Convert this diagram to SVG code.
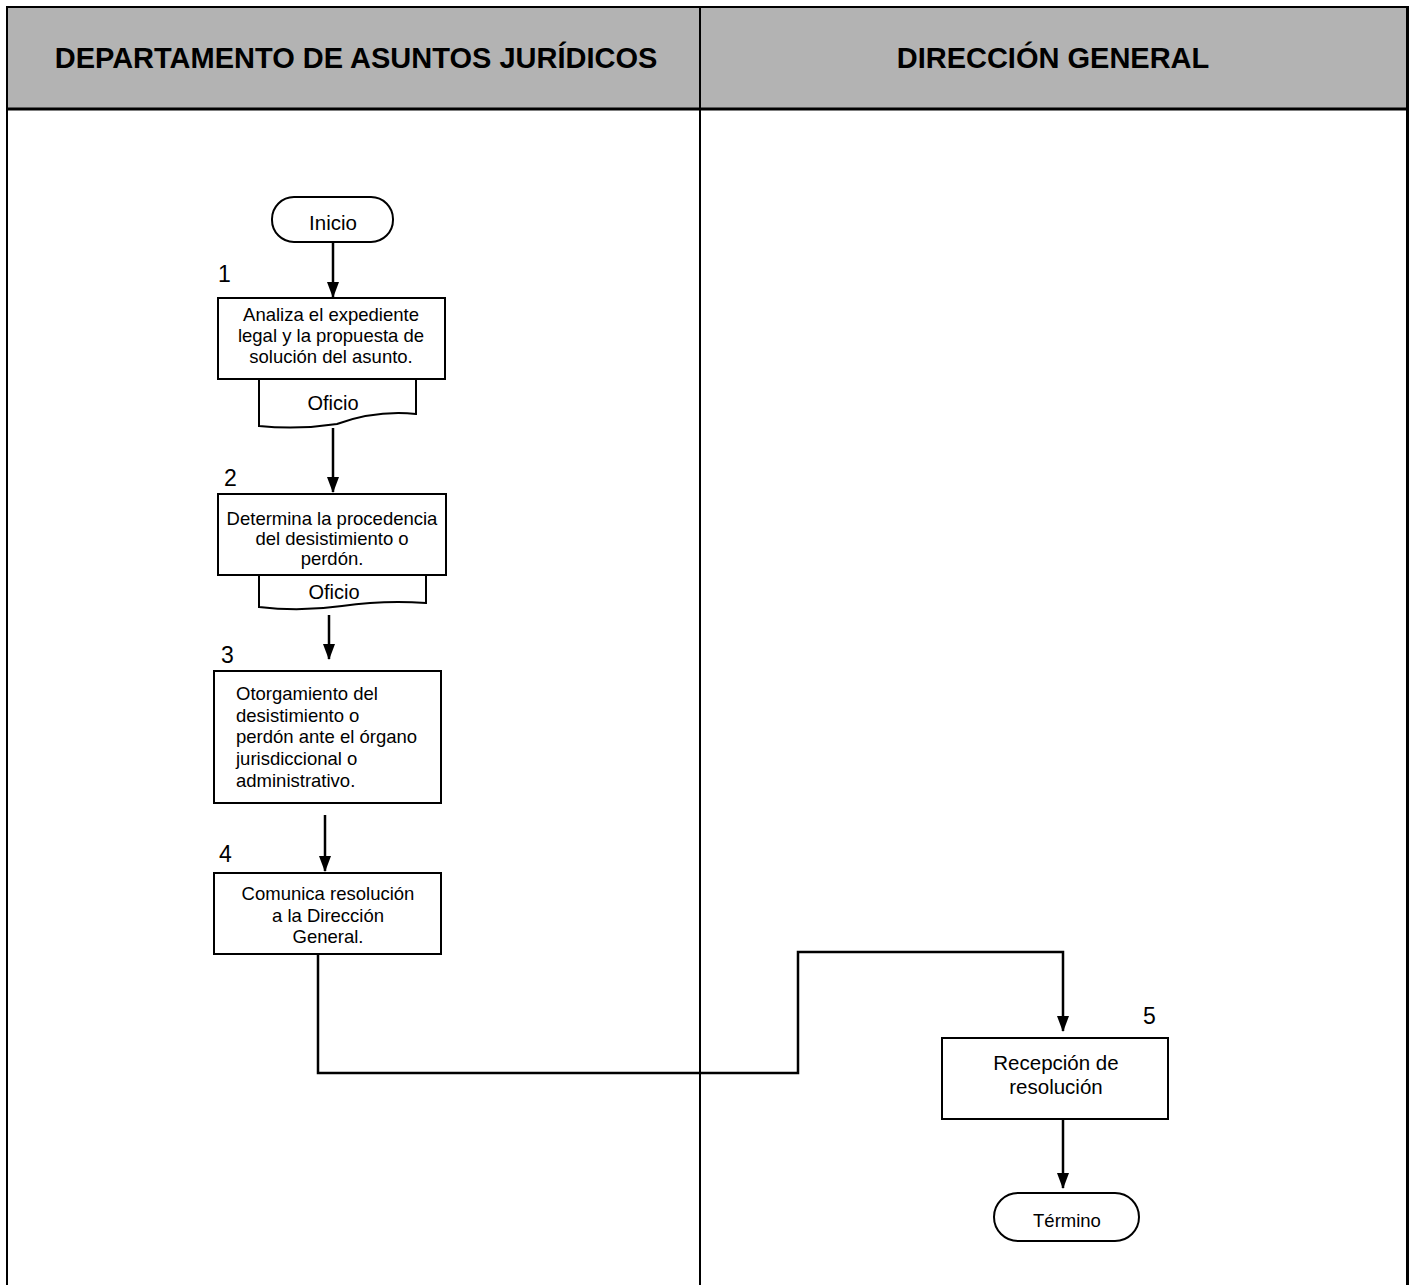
<svg xmlns="http://www.w3.org/2000/svg" width="1413" height="1285" viewBox="0 0 1413 1285">
<style>
.t{font-family:"Liberation Sans",Arial,sans-serif;fill:#000}
.h{font-size:29px;font-weight:bold;text-anchor:middle}
.n{font-size:23px}
.b{font-size:18.5px;text-anchor:middle}
.l{font-size:18.5px}
.box{fill:#fff;stroke:#000;stroke-width:2}
.c{fill:none;stroke:#000;stroke-width:2.5}
</style>
<defs>
<marker id="arr" markerWidth="16" markerHeight="14" refX="15" refY="7" orient="auto" markerUnits="userSpaceOnUse" viewBox="0 0 16 14">
<path d="M0,1 L16,7 L0,13 Z" fill="#000"/>
</marker>
</defs>
<g id="lanes">
<rect x="7" y="7" width="1400" height="102" fill="#b3b3b3"/>
<line x1="7" y1="7" x2="1408" y2="7" stroke="#000" stroke-width="2"/>
<line x1="7" y1="6" x2="7" y2="1285" stroke="#000" stroke-width="2"/>
<line x1="1407.5" y1="6" x2="1407.5" y2="1285" stroke="#000" stroke-width="3"/>
<line x1="7" y1="109" x2="1408" y2="109" stroke="#000" stroke-width="3"/>
<line x1="700" y1="7" x2="700" y2="1285" stroke="#000" stroke-width="2"/>
<text class="t h" x="356" y="68">DEPARTAMENTO DE ASUNTOS JURÍDICOS</text>
<text class="t h" x="1053" y="68">DIRECCIÓN GENERAL</text>
</g>
<g id="connectors">
<line class="c" x1="333" y1="243" x2="333" y2="297" marker-end="url(#arr)"/>
<line class="c" x1="333" y1="428" x2="333" y2="492" marker-end="url(#arr)"/>
<line class="c" x1="329" y1="615" x2="329" y2="659" marker-end="url(#arr)"/>
<line class="c" x1="325" y1="815" x2="325" y2="871" marker-end="url(#arr)"/>
<polyline class="c" points="318,955 318,1073 798,1073 798,952 1063,952 1063,1031" marker-end="url(#arr)"/>
<line class="c" x1="1063" y1="1120" x2="1063" y2="1188" marker-end="url(#arr)"/>
</g>
<g id="inicio">
<rect class="box" x="272" y="197" width="121" height="45" rx="22" ry="22"/>
<text class="t" x="333" y="230" font-size="20.5" text-anchor="middle">Inicio</text>
</g>
<g id="step1">
<text class="t n" x="218" y="282">1</text>
<rect class="box" x="218" y="298" width="227" height="81"/>
<text class="t b" x="331" y="321">Analiza el expediente</text>
<text class="t b" x="331" y="342">legal y la propuesta de</text>
<text class="t b" x="331" y="363">solución del asunto.</text>
</g>
<g id="doc1">
<path class="box" d="M259,379 L416,379 L416,414 Q376,410 337,424 Q298,430 259,426 Z"/>
<text class="t" x="333" y="410" font-size="20" text-anchor="middle">Oficio</text>
</g>
<g id="step2">
<text class="t n" x="224" y="486">2</text>
<rect class="box" x="218" y="494" width="228" height="81"/>
<text class="t b" x="332" y="525">Determina la procedencia</text>
<text class="t b" x="332" y="545">del desistimiento o</text>
<text class="t b" x="332" y="565">perdón.</text>
</g>
<g id="doc2">
<path class="box" d="M259,575 L426,575 L426,603 Q384,600 342,606 Q300,612 259,607 Z"/>
<text class="t" x="334" y="599" font-size="20" text-anchor="middle">Oficio</text>
</g>
<g id="step3">
<text class="t n" x="221" y="663">3</text>
<rect class="box" x="214" y="671" width="227" height="132"/>
<text class="t l" x="236" y="700">Otorgamiento del</text>
<text class="t l" x="236" y="722">desistimiento o</text>
<text class="t l" x="236" y="743">perdón ante el órgano</text>
<text class="t l" x="236" y="765">jurisdiccional o</text>
<text class="t l" x="236" y="787">administrativo.</text>
</g>
<g id="step4">
<text class="t n" x="219" y="862">4</text>
<rect class="box" x="214" y="873" width="227" height="81"/>
<text class="t b" x="328" y="900">Comunica resolución</text>
<text class="t b" x="328" y="922">a la Dirección</text>
<text class="t b" x="328" y="943">General.</text>
</g>
<g id="step5">
<text class="t n" x="1143" y="1024">5</text>
<rect class="box" x="942" y="1038" width="226" height="81"/>
<text class="t" x="1056" y="1070" font-size="20.5" text-anchor="middle">Recepción de</text>
<text class="t" x="1056" y="1094" font-size="20.5" text-anchor="middle">resolución</text>
</g>
<g id="termino">
<rect class="box" x="994" y="1193" width="145" height="48" rx="24" ry="24"/>
<text class="t" x="1067" y="1227" font-size="18.5" text-anchor="middle">Término</text>
</g>
</svg>
